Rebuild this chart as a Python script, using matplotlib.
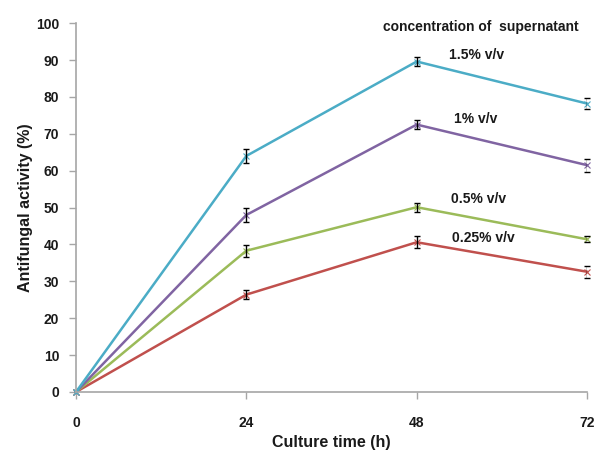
import matplotlib
matplotlib.use("Agg")
import matplotlib.pyplot as plt

plt.rcParams['font.family'] = ['Liberation Sans', 'DejaVu Sans']

time_h = [0, 24, 48, 72]
series_names = ["1.5% v/v", "1% v/v", "0.5% v/v", "0.25% v/v"]
act_15 = [0, 64.0, 89.6, 78.2]
act_10 = [0, 48.0, 72.5, 61.5]
act_05 = [0, 38.3, 50.1, 41.4]
act_025 = [0, 26.4, 40.6, 32.6]
err_15 = [0, 1.8, 1.3, 1.6]
err_10 = [0, 2.0, 1.3, 1.8]
err_05 = [0, 1.6, 1.2, 0.8]
err_025 = [0, 1.3, 1.6, 1.6]
colors = ["#4bacc6", "#8064a2", "#9bbb59", "#c0504d"]
label_pos = [(52.6, 91.3), (53.3, 74.0), (52.9, 52.3), (53.0, 41.7)]

fig = plt.figure(figsize=(5.96, 4.54), dpi=100)
ax = fig.add_axes([0.1275, 0.1366, 0.8575, 0.8124])

for vals, errs, c in [(act_025, err_025, colors[3]), (act_05, err_05, colors[2]),
                      (act_10, err_10, colors[1]), (act_15, err_15, colors[0])]:
    ax.plot(time_h, vals, color=c, lw=1.8, marker='x', ms=4, mew=0.8, zorder=2)
    ax.errorbar(time_h[1:], vals[1:], yerr=errs[1:], fmt='none', ecolor='black',
                elinewidth=1, capsize=2, capthick=1, zorder=3)

ax.set_xlim(0, 72)
ax.set_ylim(0, 100)
ax.set_xticks(time_h)
ax.set_yticks(range(0, 101, 10))
for s in ['top', 'right']:
    ax.spines[s].set_visible(False)
for s in ['left', 'bottom']:
    ax.spines[s].set_color('#a6a6a6')
    ax.spines[s].set_linewidth(1.2)
ax.tick_params(axis='y', colors='#a6a6a6', labelcolor='#1a1a1a', length=5, width=1,
               labelsize=10, pad=7)
ax.tick_params(axis='x', colors='#a6a6a6', labelcolor='#1a1a1a', length=5, width=1,
               labelsize=10, pad=12)
for lab in ax.get_xticklabels() + ax.get_yticklabels():
    lab.set_fontweight('bold')

ax.set_xlabel("Culture time (h)", fontsize=11.5, fontweight='bold', color='#1a1a1a', labelpad=4)
ax.set_ylabel("Antifungal activity (%)", fontsize=11.5, fontweight='bold', color='#1a1a1a', labelpad=2)

ax.text(57.1, 98.9, "concentration of  supernatant", fontsize=10, fontweight='bold',
        ha='center', va='center', color='#1a1a1a')
for name, (x, y) in zip(series_names, label_pos):
    ax.text(x, y, name, fontsize=10, fontweight='bold', ha='left', va='center', color='#1a1a1a')

for ln in ax.lines:
    ln.set_clip_on(False)

fig.savefig("out.png", dpi=100)
